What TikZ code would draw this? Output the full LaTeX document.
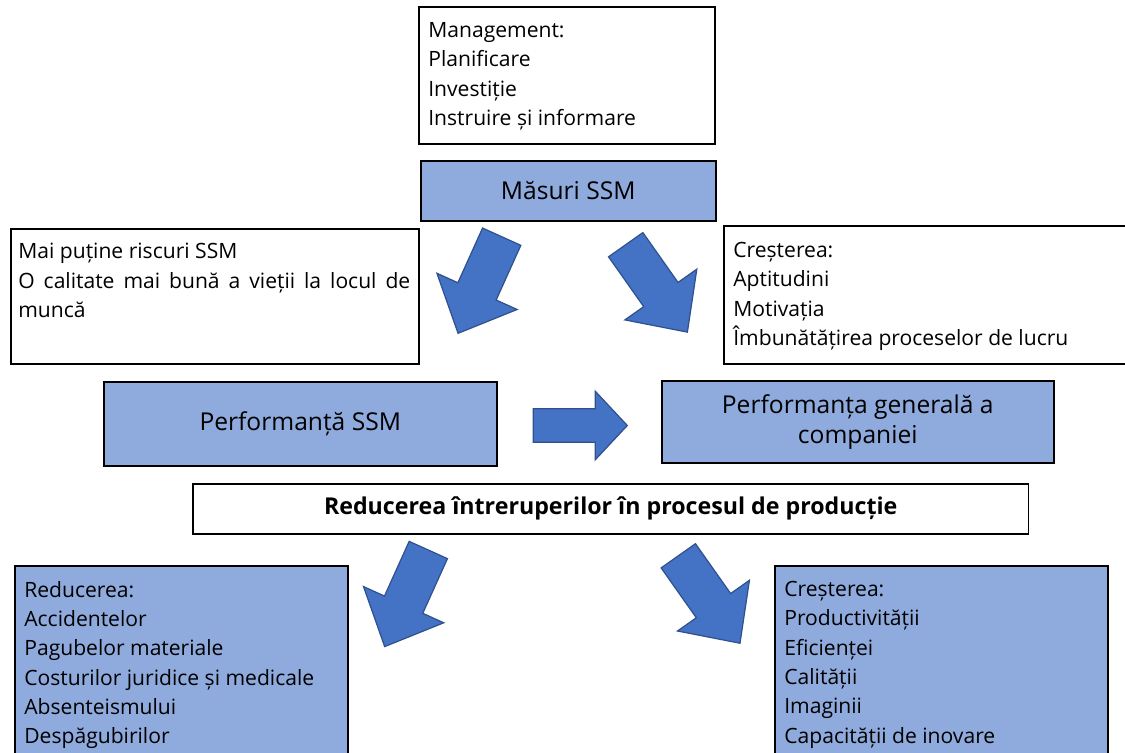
\documentclass[tikz,border=0pt]{standalone}
\usepackage{fontspec}
\setmainfont{Open Sans}
\usepackage{tikz}

\definecolor{boxblue}{HTML}{8FAADC}
\definecolor{arrowblue}{HTML}{4472C4}
\definecolor{arrowline}{HTML}{2F528F}

\tikzset{
  pics/blockarrow/.style n args={4}{code={
    \draw[arrowbody] (0,-#3) -- ({#1-#2},-#3) -- ({#1-#2},-#4) -- (#1,0)
      -- ({#1-#2},#4) -- ({#1-#2},#3) -- (0,#3) -- cycle;
  }}
}

\begin{document}
\begin{tikzpicture}[x=0.02cm,y=-0.02cm,
                    box/.style={draw, line width=0.9pt, anchor=north west,
                                inner sep=0pt, fill=white},
                    bluebox/.style={box, fill=boxblue},
                    title/.style={font=\fontsize{14}{17}\selectfont, align=center},
                    boxtext/.style={anchor=north west, inner sep=0pt, align=left,
                                    font=\fontsize{12}{16.7}\selectfont},
                    arrowbody/.style={fill=arrowblue, draw=arrowline,
                                      line width=0.7pt, line join=miter}]
  \useasboundingbox (0,0) rectangle (1125,753);
  \clip (0,0) rectangle (1125,753);

  % top of the chain
  \node[box, minimum width=5.92cm, minimum height=2.74cm] (mgmt) at (418,6) {};
  \node[boxtext] (mgmttext) at ([shift={(10,16)}]mgmt.north west)
    {Management:\\Planificare\\Investiție\\Instruire și informare};

  \node[bluebox, title, minimum width=5.9cm, minimum height=1.2cm]
    (masuri) at (420,160) {Măsuri SSM};

  % side effects
  \node[box, minimum width=8.16cm, minimum height=2.7cm] (risc) at (10,228) {};
  \node[boxtext, text width=7.84cm, align=justify] (risctext)
    at ([shift={(8,15)}]risc.north west)
    {Mai puține riscuri SSM\\O calitate mai bună a vieții la locul de muncă};

  \node[box, minimum width=8.4cm, minimum height=2.76cm] (crest) at (723,225) {};
  \node[boxtext] (cresttext) at ([shift={(10,17)}]crest.north west)
    {Creșterea:\\Aptitudini\\Motivația\\Îmbunătățirea proceselor de lucru};

  % performance
  \node[bluebox, title, minimum width=7.86cm, minimum height=1.68cm]
    (perfssm) at (103,381) {Performanță SSM};
  \node[bluebox, title, minimum width=7.84cm, minimum height=1.64cm]
    (perfgen) at (661,380) {Performanța generală a\\companiei};

  \node[box, title, font=\fontsize{13.2}{16}\selectfont\bfseries,
        minimum width=16.72cm, minimum height=1cm]
    (reducere) at (192,483) {Reducerea întreruperilor în procesul de producție};

  % results
  \node[bluebox, minimum width=6.66cm, minimum height=4cm] (reducbox) at (14,565) {};
  \node[boxtext] (reductext) at ([shift={(10,15.7)}]reducbox.north west)
    {Reducerea:\\Accidentelor\\Pagubelor materiale\\Costurilor juridice și medicale\\%
     Absenteismului\\Despăgubirilor};

  \node[bluebox, minimum width=6.66cm, minimum height=4cm] (crestbox) at (774,565) {};
  \node[boxtext] (crestboxtext) at ([shift={(10,15.7)}]crestbox.north west)
    {Creșterea:\\Productivității\\Eficienței\\Calității\\Imaginii\\Capacității de inovare};

  % block arrows
  \pic[rotate=-114.3] at (501.7,236.7) {blockarrow={106}{46}{21}{44}};
  \pic[rotate=-54.8]  at (625.7,244.7) {blockarrow={107}{46}{21}{44}};
  \pic                at (533.3,425.5) {blockarrow={94}{32}{16.7}{34.2}};
  \pic[rotate=-114.3] at (428.3,550)   {blockarrow={106}{46}{21}{44}};
  \pic[rotate=-54.8]  at (678.3,555.8) {blockarrow={107}{46}{21}{44}};
\end{tikzpicture}
\end{document}
